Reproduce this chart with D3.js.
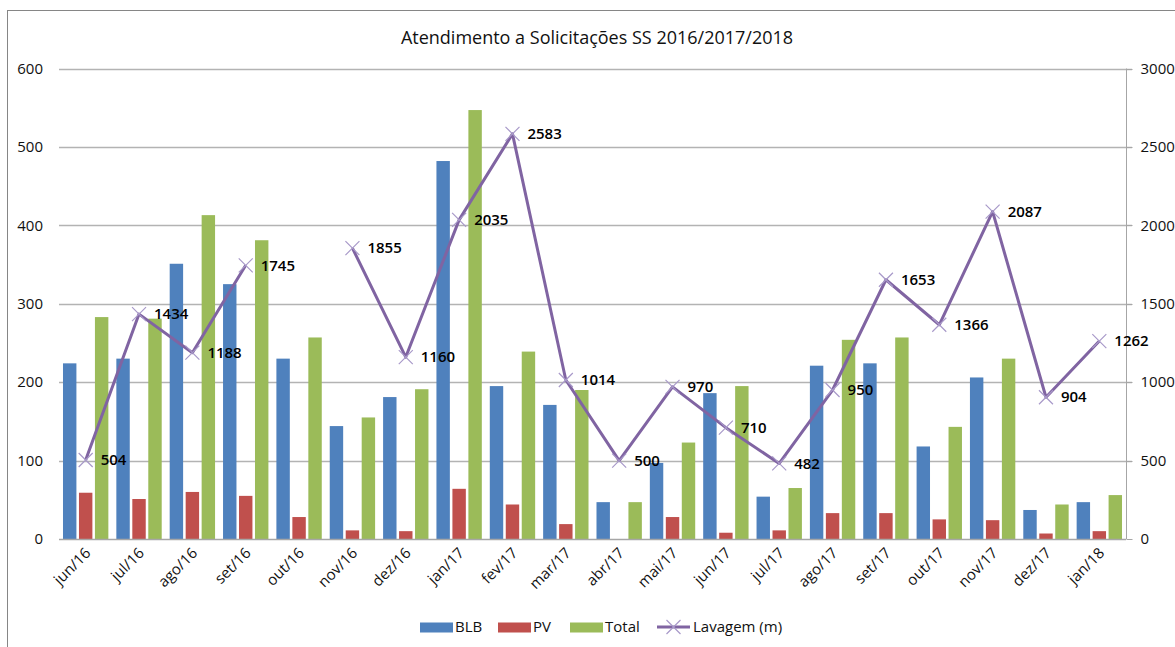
<!DOCTYPE html>
<html>
<head>
<meta charset="utf-8">
<script src="https://cdn.jsdelivr.net/npm/d3@7"></script>
<style>
  body { margin: 0; background: #fff; }
  svg { font-family: "Open Sans", "Liberation Sans", sans-serif; }
</style>
</head>
<body>
<script>
const months = ["jun/16","jul/16","ago/16","set/16","out/16","nov/16","dez/16","jan/17","fev/17","mar/17",
  "abr/17","mai/17","jun/17","jul/17","ago/17","set/17","out/17","nov/17","dez/17","jan/18"];
const blb = [224,230,351,325,230,144,181,482,195,171,47,97,186,54,221,224,118,206,37,47];
const pv = [59,51,60,55,28,11,10,64,44,19,0,28,8,11,33,33,25,24,7,10];
const total = [283,281,413,381,257,155,191,547,239,190,47,123,195,65,254,257,143,230,44,56];
const lavagem = [504,1434,1188,1745,null,1855,1160,2035,2583,1014,500,970,710,482,950,1653,1366,2087,904,1262];
const leftTicks = [0,100,200,300,400,500,600];
const rightTicks = [0,500,1000,1500,2000,2500,3000];

const W = 1175, H = 647;
const plot = {left: 59, right: 1126, top: 68.5, bottom: 539};

const svg = d3.select("body").append("svg")
    .attr("width", W)
    .attr("height", H);

// chart frame (only top/left edges visible)
svg.append("rect")
    .attr("x", 7.5).attr("y", 10.5)
    .attr("width", W).attr("height", H)
    .attr("fill", "none")
    .attr("stroke", "#868686");

svg.append("text")
    .attr("x", 597).attr("y", 44)
    .attr("text-anchor", "middle")
    .attr("font-size", 18)
    .attr("fill", "#111")
    .text("Atendimento a Solicitações SS 2016/2017/2018");

const x = d3.scaleBand()
    .domain(months)
    .range([plot.left, plot.right]);

const sub = d3.scaleBand()
    .domain(["BLB","PV","Total"])
    .range([0, x.bandwidth()])
    .paddingInner(0.16)
    .paddingOuter(0.25);

const yL = d3.scaleLinear().domain([0, 600]).range([plot.bottom, plot.top]);
const yR = d3.scaleLinear().domain([0, 3000]).range([plot.bottom, plot.top]);

// gridlines
svg.append("g")
  .selectAll("line")
  .data(leftTicks.slice(1))
  .join("line")
    .attr("x1", plot.left).attr("x2", plot.right + 6)
    .attr("y1", d => Math.round(yL(d)) + 0.5)
    .attr("y2", d => Math.round(yL(d)) + 0.5)
    .attr("stroke", "#b3b3b3")
    .attr("stroke-width", 1.3);

// left tick labels
svg.append("g")
  .selectAll("text")
  .data(leftTicks)
  .join("text")
    .attr("x", 43)
    .attr("y", d => yL(d))
    .attr("dy", "0.35em")
    .attr("text-anchor", "end")
    .attr("font-size", 15)
    .attr("fill", "#111")
    .text(d => d);

// right axis
const gR = svg.append("g").attr("transform", `translate(${plot.right + 0.5},0)`);
gR.append("line")
    .attr("y1", plot.top).attr("y2", plot.bottom)
    .attr("stroke", "#a6a6a6");
gR.selectAll("line.tick")
  .data(rightTicks)
  .join("line")
    .attr("class", "tick")
    .attr("x1", 0).attr("x2", 6)
    .attr("y1", d => Math.round(yR(d)) + 0.5)
    .attr("y2", d => Math.round(yR(d)) + 0.5)
    .attr("stroke", "#a6a6a6");
gR.selectAll("text")
  .data(rightTicks)
  .join("text")
    .attr("x", 14)
    .attr("y", d => yR(d))
    .attr("dy", "0.35em")
    .attr("font-size", 15)
    .attr("fill", "#111")
    .text(d => d);

// bars
const series = [
  {key: "BLB", values: blb, color: "#4f81bd"},
  {key: "PV", values: pv, color: "#c0504d"},
  {key: "Total", values: total, color: "#9bbb59"}
];

series.forEach(s => {
  svg.append("g")
    .selectAll("rect")
    .data(months)
    .join("rect")
      .attr("x", (m) => x(m) + sub(s.key))
      .attr("width", sub.bandwidth())
      .attr("y", (m, i) => yL(s.values[i]))
      .attr("height", (m, i) => plot.bottom - yL(s.values[i]))
      .attr("fill", s.color);
});

// x axis line
svg.append("line")
    .attr("x1", plot.left).attr("x2", plot.right)
    .attr("y1", plot.bottom + 0.5).attr("y2", plot.bottom + 0.5)
    .attr("stroke", "#a6a6a6")
    .attr("stroke-width", 1.3);

// x labels
svg.append("g")
  .selectAll("text")
  .data(months)
  .join("text")
    .attr("transform", m => `translate(${x(m) + x.bandwidth() / 2 + 6},${plot.bottom + 15}) rotate(-45)`)
    .attr("text-anchor", "end")
    .attr("font-size", 15)
    .attr("fill", "#111")
    .text(m => m);

// line
const pts = months.map((m, i) => ({m, v: lavagem[i]}));
const line = d3.line()
    .defined(d => d.v != null)
    .x(d => x(d.m) + x.bandwidth() / 2)
    .y(d => yR(d.v));

svg.append("path")
    .datum(pts)
    .attr("d", line)
    .attr("fill", "none")
    .attr("stroke", "#8064a2")
    .attr("stroke-width", 3)
    .attr("stroke-linejoin", "round");

const ptsOk = pts.filter(d => d.v != null);
const mk = svg.append("g");
mk.selectAll("path")
  .data(ptsOk)
  .join("path")
    .attr("transform", d => `translate(${x(d.m) + x.bandwidth() / 2},${yR(d.v)})`)
    .attr("d", "M-7,-7L7,7M-7,7L7,-7")
    .attr("stroke", "#a899c9")
    .attr("stroke-width", 1.2);

mk.selectAll("text")
  .data(ptsOk)
  .join("text")
    .attr("x", d => x(d.m) + x.bandwidth() / 2 + 15)
    .attr("y", d => yR(d.v))
    .attr("dy", "0.35em")
    .attr("font-size", 15)
    .attr("font-weight", 600)
    .attr("fill", "#000")
    .text(d => d.v);

// legend
const legend = svg.append("g").attr("transform", "translate(0,627)");
const items = [
  {label: "BLB", color: "#4f81bd", x: 420},
  {label: "PV", color: "#c0504d", x: 498},
  {label: "Total", color: "#9bbb59", x: 570}
];
items.forEach(it => {
  legend.append("rect")
      .attr("x", it.x).attr("y", -4.5)
      .attr("width", 33).attr("height", 10)
      .attr("fill", it.color);
  legend.append("text")
      .attr("x", it.x + 35).attr("y", 0)
      .attr("dy", "0.35em")
      .attr("font-size", 15)
      .attr("fill", "#111")
      .text(it.label);
});
legend.append("line")
    .attr("x1", 657).attr("x2", 690)
    .attr("stroke", "#8064a2").attr("stroke-width", 3);
legend.append("path")
    .attr("transform", "translate(673.5,0)")
    .attr("d", "M-7,-7L7,7M-7,7L7,-7")
    .attr("stroke", "#a899c9")
    .attr("stroke-width", 1.2);
legend.append("text")
    .attr("x", 693).attr("y", 0)
    .attr("dy", "0.35em")
    .attr("font-size", 15)
    .attr("fill", "#111")
    .text("Lavagem (m)");
</script>
</body>
</html>
